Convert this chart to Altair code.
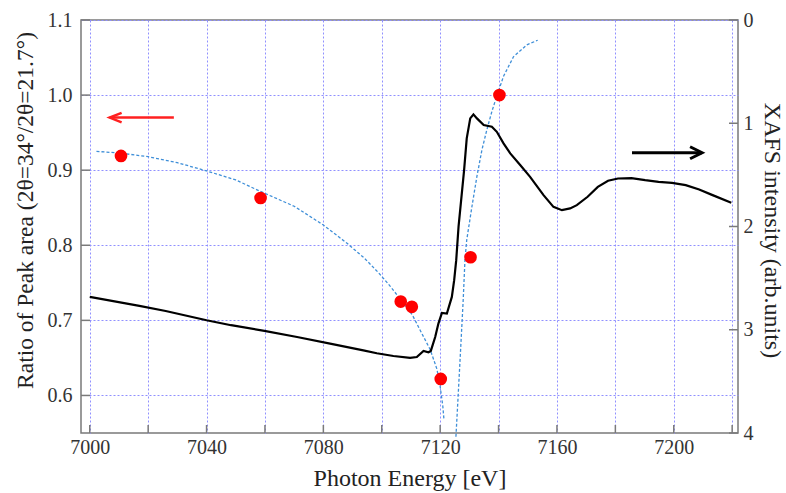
import altair as alt
import pandas as pd

SERIF = "Liberation Serif"

# Peak-area ratio measurements (left axis)
PEAK_E = [7010.7, 7058.5, 7106.5, 7110.3, 7120.2, 7130.4, 7140.3]
PEAK_RATIO = [0.919, 0.863, 0.725, 0.718, 0.622, 0.784, 1.000]

# Guide curve through the pre-edge ratios
FIT_LO_E = [7002.3, 7010, 7020, 7030, 7040, 7050, 7060, 7070, 7080, 7088,
            7094, 7099, 7103, 7107, 7110.5, 7113, 7116.6, 7118.9, 7120.0,
            7120.9, 7121.3]
FIT_LO_R = [0.925, 0.923, 0.918, 0.910, 0.899, 0.887, 0.869, 0.852, 0.827, 0.803,
            0.783, 0.763, 0.745, 0.725, 0.707, 0.688, 0.661, 0.635, 0.612,
            0.586, 0.568]

# Guide curve through the post-edge ratios
FIT_HI_E = [7125.4, 7126.1, 7127.0, 7127.9, 7128.5, 7129.1, 7130.9, 7132.6,
            7134.3, 7136.0, 7137.7, 7139.4, 7141.7, 7145.1, 7149.7, 7153.4]
FIT_HI_R = [0.545, 0.595, 0.661, 0.728, 0.781, 0.807, 0.852, 0.892,
            0.927, 0.954, 0.978, 0.999, 1.025, 1.051, 1.067, 1.073]

# XAFS spectrum (right axis, inverted)
XAFS_E = [7000, 7017, 7026, 7040, 7048.4, 7059.8, 7071, 7082.3, 7093.7, 7098.3,
          7104, 7109.7, 7112, 7114.3, 7116, 7116.8, 7118.3, 7119.4, 7120.6,
          7122.3, 7124, 7124.8, 7125.5, 7126.3, 7128.2, 7129.1, 7130.3, 7131.4,
          7132.6, 7134.9, 7137.7, 7139.4, 7141.7, 7144, 7147.4, 7150.8, 7155.4,
          7158.8, 7161.7, 7164.5, 7166.8, 7170.5, 7174, 7177.5, 7180.9, 7185.5,
          7190.2, 7194.8, 7199.4, 7204.1, 7208.7, 7213.3, 7219.7]
XAFS_I = [2.682, 2.769, 2.818, 2.908, 2.956, 3.011, 3.070, 3.134, 3.199, 3.228,
          3.254, 3.273, 3.264, 3.205, 3.218, 3.205, 3.070, 2.940, 2.837,
          2.843, 2.682, 2.520, 2.326, 2.000, 1.454, 1.147, 0.953, 0.914,
          0.953, 1.018, 1.034, 1.083, 1.195, 1.292, 1.405, 1.519, 1.696,
          1.810, 1.842, 1.825, 1.793, 1.712, 1.616, 1.557, 1.535, 1.531,
          1.551, 1.567, 1.577, 1.599, 1.641, 1.696, 1.771]

# Axis tick values
X_TICKS = [7000, 7020, 7040, 7060, 7080, 7100, 7120, 7140, 7160, 7180, 7200, 7220]
LEFT_TICKS = [0.6, 0.7, 0.8, 0.9, 1.0, 1.1]
RIGHT_TICKS = [0, 1, 2, 3, 4]

# Arrows pointing to the axis each series belongs to
RED_ARROW_E = [7006.8, 7028.8]
RED_ARROW_R = 0.970
BLACK_ARROW_E = [7185.7, 7209.7]
BLACK_ARROW_I = 1.286

W, H = 657, 413
GRID = "#9090ff"
FRAME = "#7a7a7a"
FIT_BLUE = "#3f8fd8"

xscale = alt.Scale(domain=[6997, 7222], nice=False, zero=False)
lscale = alt.Scale(domain=[0.55, 1.1], nice=False, zero=False)
rscale = alt.Scale(domain=[0, 4], reverse=True, nice=False, zero=False)

x_axis = alt.Axis(
    values=X_TICKS, format="d",
    labelExpr="datum.value % 40 == 0 ? datum.label : ''",
    grid=True, gridColor=GRID, gridDash=[2, 2], gridWidth=1,
    ticks=False, tickSize=0, domain=False, labelFlush=False,
    labelFont=SERIF, labelFontSize=20, labelColor="#333", labelPadding=4,
    title="Photon Energy [eV]", titleFont=SERIF, titleFontSize=24,
    titleFontWeight="normal", titleColor="#222",
    titleY=52, titleBaseline="alphabetic",
)
left_axis = alt.Axis(
    orient="left", values=LEFT_TICKS, format=".1f",
    grid=True, gridColor=GRID, gridDash=[2, 2], gridWidth=1,
    ticks=False, tickSize=0, domain=False,
    labelFont=SERIF, labelFontSize=20, labelColor="#333", labelPadding=9,
    title="Ratio of Peak area (2θ=34°/2θ=21.7°)", titleFont=SERIF,
    titleFontSize=23.5, titleFontWeight="normal", titleColor="#222",
    titleAngle=-90, titleX=-49, titleY=190, titleAlign="center",
    titleBaseline="alphabetic",
)
right_axis = alt.Axis(
    orient="right", values=RIGHT_TICKS, format="d",
    grid=False, ticks=False, tickSize=0, domain=False,
    labelFont=SERIF, labelFontSize=20, labelColor="#333", labelPadding=5,
    title="XAFS intensity (arb.units)", titleFont=SERIF,
    titleFontSize=24, titleFontWeight="normal", titleColor="#222",
    titleAngle=90, titleX=26, titleY=210, titleAlign="center",
    titleBaseline="alphabetic",
)

peaks = pd.DataFrame({"x": PEAK_E, "y": PEAK_RATIO})
fit_lo = pd.DataFrame({"x": FIT_LO_E, "y": FIT_LO_R})
fit_hi = pd.DataFrame({"x": FIT_HI_E, "y": FIT_HI_R})
xafs = pd.DataFrame({"x": XAFS_E, "r": XAFS_I})
xt = pd.DataFrame({"x": X_TICKS})
lt = pd.DataFrame({"y": LEFT_TICKS})
rt = pd.DataFrame({"r": RIGHT_TICKS})
red_arrow = pd.DataFrame({"x": [RED_ARROW_E[0]], "x2": [RED_ARROW_E[1]], "y": [RED_ARROW_R]})
black_arrow = pd.DataFrame({"x": [BLACK_ARROW_E[0]], "x2": [BLACK_ARROW_E[1]], "r": [BLACK_ARROW_I]})
red_head = pd.DataFrame({"x": [RED_ARROW_E[0]], "y": [RED_ARROW_R]})
black_head = pd.DataFrame({"x": [BLACK_ARROW_E[1]], "r": [BLACK_ARROW_I]})

# Every layer carries the same axis definition so the shared axes merge cleanly
def X():
    return alt.X("x:Q", scale=xscale, axis=x_axis)

def YL():
    return alt.Y("y:Q", scale=lscale, axis=left_axis)

def YR():
    return alt.Y("r:Q", scale=rscale, axis=right_axis)

# ---- left-axis group ----
bottom_ticks = alt.Chart(xt).mark_rule(color=FRAME, strokeWidth=1.5).encode(
    x=X(), y=alt.value(H), y2=alt.value(H - 8))
left_ticks = alt.Chart(lt).mark_rule(color=FRAME, strokeWidth=1.5).encode(
    y=YL(), x=alt.value(0), x2=alt.value(9))
lo_curve = alt.Chart(fit_lo).mark_line(
    color=FIT_BLUE, strokeWidth=1.3, strokeDash=[3, 2]).encode(x=X(), y=YL())
hi_curve = alt.Chart(fit_hi).mark_line(
    color=FIT_BLUE, strokeWidth=1.3, strokeDash=[3, 2], clip=False).encode(x=X(), y=YL())
red_shaft = alt.Chart(red_arrow).mark_rule(color="#ff2020", strokeWidth=2.5).encode(
    x=X(), x2="x2:Q", y=YL())
red_tip = alt.Chart(red_head).mark_point(
    shape="M 1 -0.4 L 0 0 L 1 0.4", filled=False, size=576,
    color="#ff2020", strokeWidth=2.5, opacity=1).encode(x=X(), y=YL())
points = alt.Chart(peaks).mark_circle(color="#ff0000", size=160, opacity=1).encode(
    x=X(), y=YL())

left_group = alt.layer(bottom_ticks, left_ticks, lo_curve, hi_curve,
                       red_shaft, red_tip, points)

# ---- right-axis group ----
xafs_line = alt.Chart(xafs).mark_line(color="#000000", strokeWidth=2.2).encode(
    x=X(), y=YR())
right_ticks = alt.Chart(rt).mark_rule(color=FRAME, strokeWidth=1.5).encode(
    y=YR(), x=alt.value(W), x2=alt.value(W - 9))
black_shaft = alt.Chart(black_arrow).mark_rule(color="#000000", strokeWidth=3).encode(
    x=X(), x2="x2:Q", y=YR())
black_tip = alt.Chart(black_head).mark_point(
    shape="M -1 -0.5 L 0 0 L -1 0.5", filled=False, size=576,
    color="#000000", strokeWidth=3, opacity=1).encode(x=X(), y=YR())

right_group = alt.layer(xafs_line, right_ticks, black_shaft, black_tip)

chart = (
    alt.layer(left_group, right_group)
    .resolve_scale(y="independent")
    .properties(
        width=W, height=H,
        autosize=alt.AutoSizeParams(type="none"),
        padding={"left": 81, "top": 20, "right": 786 - 81 - W, "bottom": 493 - 20 - H},
        background="white",
    )
    .configure_view(stroke=FRAME, strokeWidth=1.5)
)

chart.save("out.html", embed_options={"renderer": "svg", "actions": False})
